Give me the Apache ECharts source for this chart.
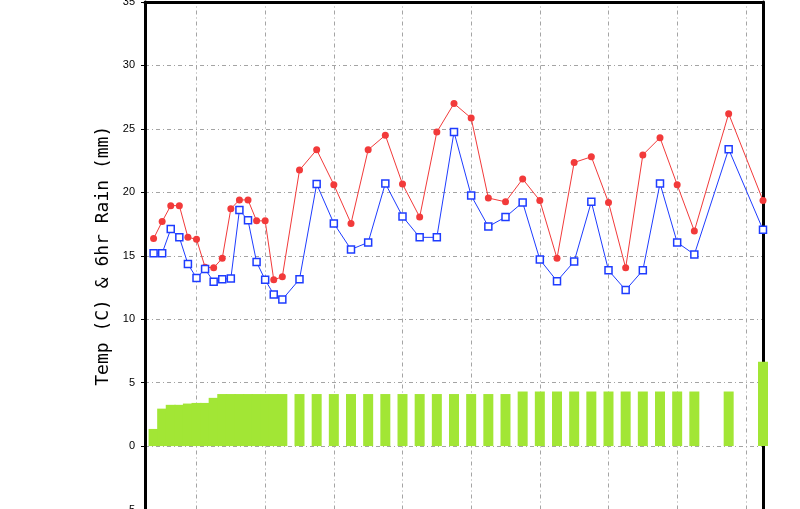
<!DOCTYPE html>
<html>
<head>
<meta charset="utf-8">
<script src="https://cdn.jsdelivr.net/npm/echarts@6/dist/echarts.min.js"></script>
<style>
  html, body { margin: 0; padding: 0; background: #fff; }
  #chart { width: 800px; height: 509px; }
</style>
</head>
<body>
<div id="chart"></div>
<script>
// forecast hour of each point (3-hourly first two days, then 6-hourly)
const hours = [3, 6, 9, 12, 15, 18, 21, 24, 27, 30, 33, 36, 39, 42, 45, 48,
  54, 60, 66, 72, 78, 84, 90, 96, 102, 108, 114, 120, 126, 132, 138, 144,
  150, 156, 162, 168, 174, 180, 186, 192, 204, 216];

const temp = [16.35, 17.7, 18.95, 18.95, 16.45, 16.3, 14.1, 14.05, 14.8, 18.7,
  19.4, 19.4, 17.75, 17.75, 13.1, 13.35,
  21.75, 23.35, 20.6, 17.55, 23.35, 24.5, 20.65, 18.05, 24.75, 27.0,
  25.85, 19.55, 19.25, 21.05, 19.35, 14.8, 22.35, 22.8, 19.2, 14.05,
  22.95, 24.3, 20.6, 16.95, 26.2, 19.35];

const dewpoint = [15.2, 15.2, 17.1, 16.45, 14.35, 13.25, 13.95, 12.95, 13.15, 13.2,
  18.6, 17.8, 14.5, 13.1, 11.95, 11.55,
  13.15, 20.65, 17.55, 15.5, 16.05, 20.7, 18.1, 16.45, 16.45, 24.75,
  19.75, 17.3, 18.05, 19.2, 14.7, 13.0, 14.55, 19.25, 13.85, 12.3,
  13.85, 20.7, 16.05, 15.1, 23.4, 17.05];

const rain = [1.35, 2.95, 3.25, 3.25, 3.35, 3.4, 3.4, 3.8, 4.1, 4.1,
  4.1, 4.1, 4.1, 4.1, 4.1, 4.1,
  4.1, 4.1, 4.1, 4.1, 4.1, 4.1, 4.1, 4.1, 4.1, 4.1,
  4.1, 4.1, 4.1, 4.3, 4.3, 4.3, 4.3, 4.3, 4.3, 4.3,
  4.3, 4.3, 4.3, 4.3, 4.3, 6.65];

// day boundaries (hours)
const dayLines = [18, 42, 66, 90, 114, 138, 162, 186, 210];

const yTicks = { min: -5, max: 35, step: 5 };

const pairs = vals => hours.map((h, i) => [h, vals[i]]);

const gridStyle = { color: '#a4a4a4', width: 1, type: [4, 3, 1, 3] };
const frame = { show: true, onZero: false, lineStyle: { color: '#000', width: 3 } };

const option = {
  animation: false,
  backgroundColor: '#fff',
  grid: {
    left: 145, top: 2, width: 618, height: 507.5,
    outerBoundsMode: 'none'
  },
  xAxis: {
    type: 'value', min: 0, max: 216, position: 'top',
    axisLine: frame, axisTick: { show: false },
    axisLabel: { show: false }, splitLine: { show: false }
  },
  yAxis: [
    {
      type: 'value', min: yTicks.min, max: yTicks.max, interval: yTicks.step,
      name: 'Temp (C) & 6hr Rain (mm)',
      nameLocation: 'middle', nameRotate: 90, nameGap: 26,
      nameTextStyle: { fontFamily: 'DejaVu Sans Mono', fontSize: 18, color: '#000' },
      axisLine: frame,
      axisTick: { show: true, length: 4, lineStyle: { color: '#000', width: 1 } },
      axisLabel: { color: '#000', fontFamily: 'Liberation Sans', fontSize: 11, margin: 10 },
      splitLine: { show: true, lineStyle: gridStyle }
    },
    {
      type: 'value', min: yTicks.min, max: yTicks.max, interval: yTicks.step,
      position: 'right',
      axisLine: frame, axisTick: { show: false },
      axisLabel: { show: false }, splitLine: { show: false }
    }
  ],
  series: [
    {
      // carries only the vertical day gridlines, kept under the bars
      name: 'days', type: 'line', data: [], z: 0, silent: true,
      markLine: {
        z: 0, silent: true, symbol: 'none', label: { show: false },
        lineStyle: gridStyle,
        data: dayLines.map(h => ({ xAxis: h }))
      }
    },
    {
      name: 'Rain', type: 'bar', data: pairs(rain),
      barWidth: 10, clip: true, z: 1,
      itemStyle: { color: '#a2e635' }
    },
    {
      name: 'Temp', type: 'line', data: pairs(temp), z: 2,
      symbol: 'circle', symbolSize: 7,
      lineStyle: { color: '#f23a3a', width: 1 },
      itemStyle: { color: '#f23a3a' }
    },
    {
      name: 'Dew point', type: 'line', data: pairs(dewpoint), z: 3,
      symbol: 'rect', symbolSize: 7,
      lineStyle: { color: '#1e3cff', width: 1 },
      itemStyle: { color: '#fff', borderColor: '#1e3cff', borderWidth: 1.5 }
    }
  ]
};

const myChart = echarts.init(document.getElementById('chart'));
myChart.setOption(option);
</script>
</body>
</html>
